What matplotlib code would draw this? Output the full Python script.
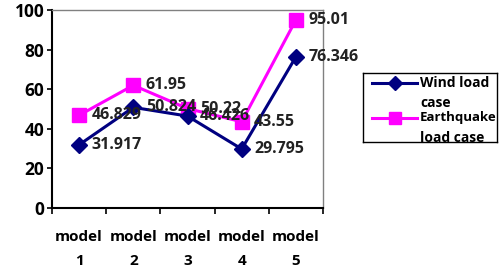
import matplotlib
matplotlib.use("Agg")
import matplotlib.pyplot as plt

models = ["model\n1", "model\n2", "model\n3", "model\n4", "model\n5"]
wind_load = [31.917, 50.824, 46.426, 29.795, 76.346]
earthquake_load = [46.829, 61.95, 50.22, 43.55, 95.01]
wind_labels = ["31.917", "50.824", "46.426", "29.795", "76.346"]
quake_labels = ["46.829", "61.95", "50.22", "43.55", "95.01"]

navy = "#000080"
magenta = "#FF00FF"

plt.rcParams["font.family"] = ["Open Sans", "DejaVu Sans"]
plt.rcParams["font.weight"] = "bold"

W, H = 503, 268
fig = plt.figure(figsize=(W / 100, H / 100), dpi=100)
ax = fig.add_axes([52 / W, 1 - 208 / H, (323 - 52) / W, (208 - 10) / H])

x = list(range(len(models)))
ax.plot(x, earthquake_load, color=magenta, lw=2.2, marker="s", ms=10, zorder=3)
ax.plot(x, wind_load, color=navy, lw=2.2, marker="D", ms=8, zorder=4)

for i in x:
    ax.annotate(quake_labels[i], (i, earthquake_load[i]), xytext=(9, 0),
                textcoords="offset points", va="center", ha="left",
                fontsize=11.5, fontweight="bold", color="#222222", zorder=5,
                annotation_clip=False)
    ax.annotate(wind_labels[i], (i, wind_load[i]), xytext=(9, 0),
                textcoords="offset points", va="center", ha="left",
                fontsize=11.5, fontweight="bold", color="#222222", zorder=5,
                annotation_clip=False)

ax.set_xlim(-0.5, len(models) - 0.5)
ax.set_ylim(0, 100)
ax.set_yticks([0, 20, 40, 60, 80, 100])
ax.tick_params(axis="y", length=3.5, width=1.2, labelsize=12.5, pad=2, colors="black")

# category boundaries as major ticks, labels on minor ticks
ax.set_xticks([i - 0.5 for i in range(len(models) + 1)])
ax.set_xticklabels([])
ax.set_xticks(x, minor=True)
ax.set_xticklabels(models, minor=True, fontsize=11, fontweight="bold", linespacing=1.9)
ax.tick_params(axis="x", which="major", length=4, width=1.2)
ax.tick_params(axis="x", which="minor", length=0, pad=16)

for s in ["left", "bottom"]:
    ax.spines[s].set_color("black")
    ax.spines[s].set_linewidth(1.5)
for s in ["top", "right"]:
    ax.spines[s].set_color("#808080")
    ax.spines[s].set_linewidth(1.0)

# legend box drawn by hand (text clipped by the frame like the original)
lax = fig.add_axes([363 / W, 1 - 142 / H, (497 - 363) / W, (142 - 73) / H])
lax.set_xlim(0, 134)
lax.set_ylim(69, 0)
lax.set_xticks([])
lax.set_yticks([])
for s in lax.spines.values():
    s.set_color("black")
    s.set_linewidth(1.0)
lax.plot([9, 54], [10, 10], color=navy, lw=2.2)
lax.plot([32], [10], color=navy, marker="D", ms=7, ls="none")
lax.plot([9, 54], [45, 45], color=magenta, lw=2.2)
lax.plot([32], [45], color=magenta, marker="s", ms=8, ls="none")
lax.text(57, 10, "Wind load", va="center", fontsize=10, fontweight="bold", clip_on=True)
lax.text(57, 30, "case", va="center", fontsize=10, fontweight="bold", clip_on=True)
lax.text(57, 45, "Earthquake", va="center", fontsize=9.5, fontweight="bold", clip_on=True)
lax.text(57, 65, "load case", va="center", fontsize=10, fontweight="bold", clip_on=True)

fig.savefig("out.png", dpi=100)
